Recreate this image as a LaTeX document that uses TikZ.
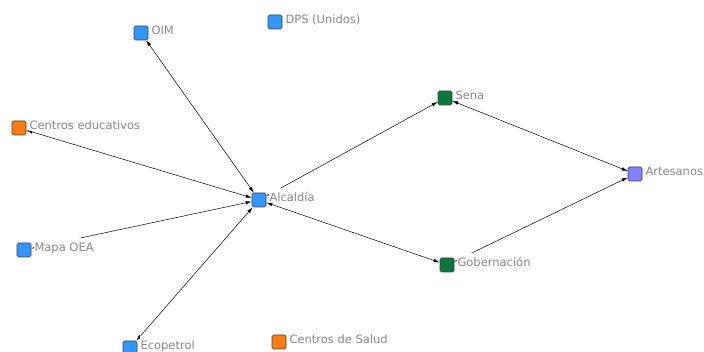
\documentclass[tikz,border=0pt]{standalone}
\usepackage{fontspec}
\setmainfont{DejaVu Sans}
\usetikzlibrary{arrows.meta, positioning}
\definecolor{actblue}{RGB}{51,150,255}
\definecolor{actorange}{RGB}{250,125,20}
\definecolor{actgreen}{RGB}{10,120,60}
\definecolor{actlav}{RGB}{130,130,255}
\definecolor{lblgray}{RGB}{135,135,135}
\begin{document}
\begin{tikzpicture}[x=1pt, y=-1pt,
  actor/.style={draw=black!75, fill=#1, rounded corners=1.5pt, minimum size=14pt, inner sep=0pt, line width=0.6pt},
  lbl/.style={anchor=base west, fill=white, text=lblgray, font=\fontsize{11.5}{13}\selectfont,
    text height=14pt, text depth=1pt, inner ysep=0pt, inner xsep=1pt},
  rel/.style={{Latex[length=6pt,width=3.5pt]}-{Latex[length=6pt,width=3.5pt]}, line width=0.5pt},
  relone/.style={-{Latex[length=6pt,width=3.5pt]}, line width=0.5pt}]
\useasboundingbox (0,0) rectangle (704,352);
% actores
\path
(141,33) node[actor=actblue] (oim) {}
(275,22) node[actor=actblue] (dps) {}
(19,128) node[actor=actorange] (educ) {}
(259,200) node[actor=actblue] (alc) {}
(24,250) node[actor=actblue] (oea) {}
(130,348) node[actor=actblue] (eco) {}
(279,342) node[actor=actorange] (salud) {}
(445,98) node[actor=actgreen] (sena) {}
(447,265) node[actor=actgreen] (gob) {}
(635,174) node[actor=actlav] (art) {};
% relaciones
\foreach \a/\b in {alc/oim, alc/educ, alc/oea, alc/eco, alc/sena, alc/gob, sena/art}
  \draw[rel] (\a) -- (\b);
\draw[relone] (gob) -- (art);
% etiquetas
\foreach \n/\t in {oim/OIM, dps/DPS (Unidos), educ/Centros educativos, alc/Alcaldía,
  oea/Mapa OEA, eco/Ecopetrol, salud/Centros de Salud, sena/Sena, gob/Gobernación, art/Artesanos}
  \node[lbl] (\n-l) at ([xshift=2pt, yshift=-2pt]\n.east) {\t};
\end{tikzpicture}
\end{document}
